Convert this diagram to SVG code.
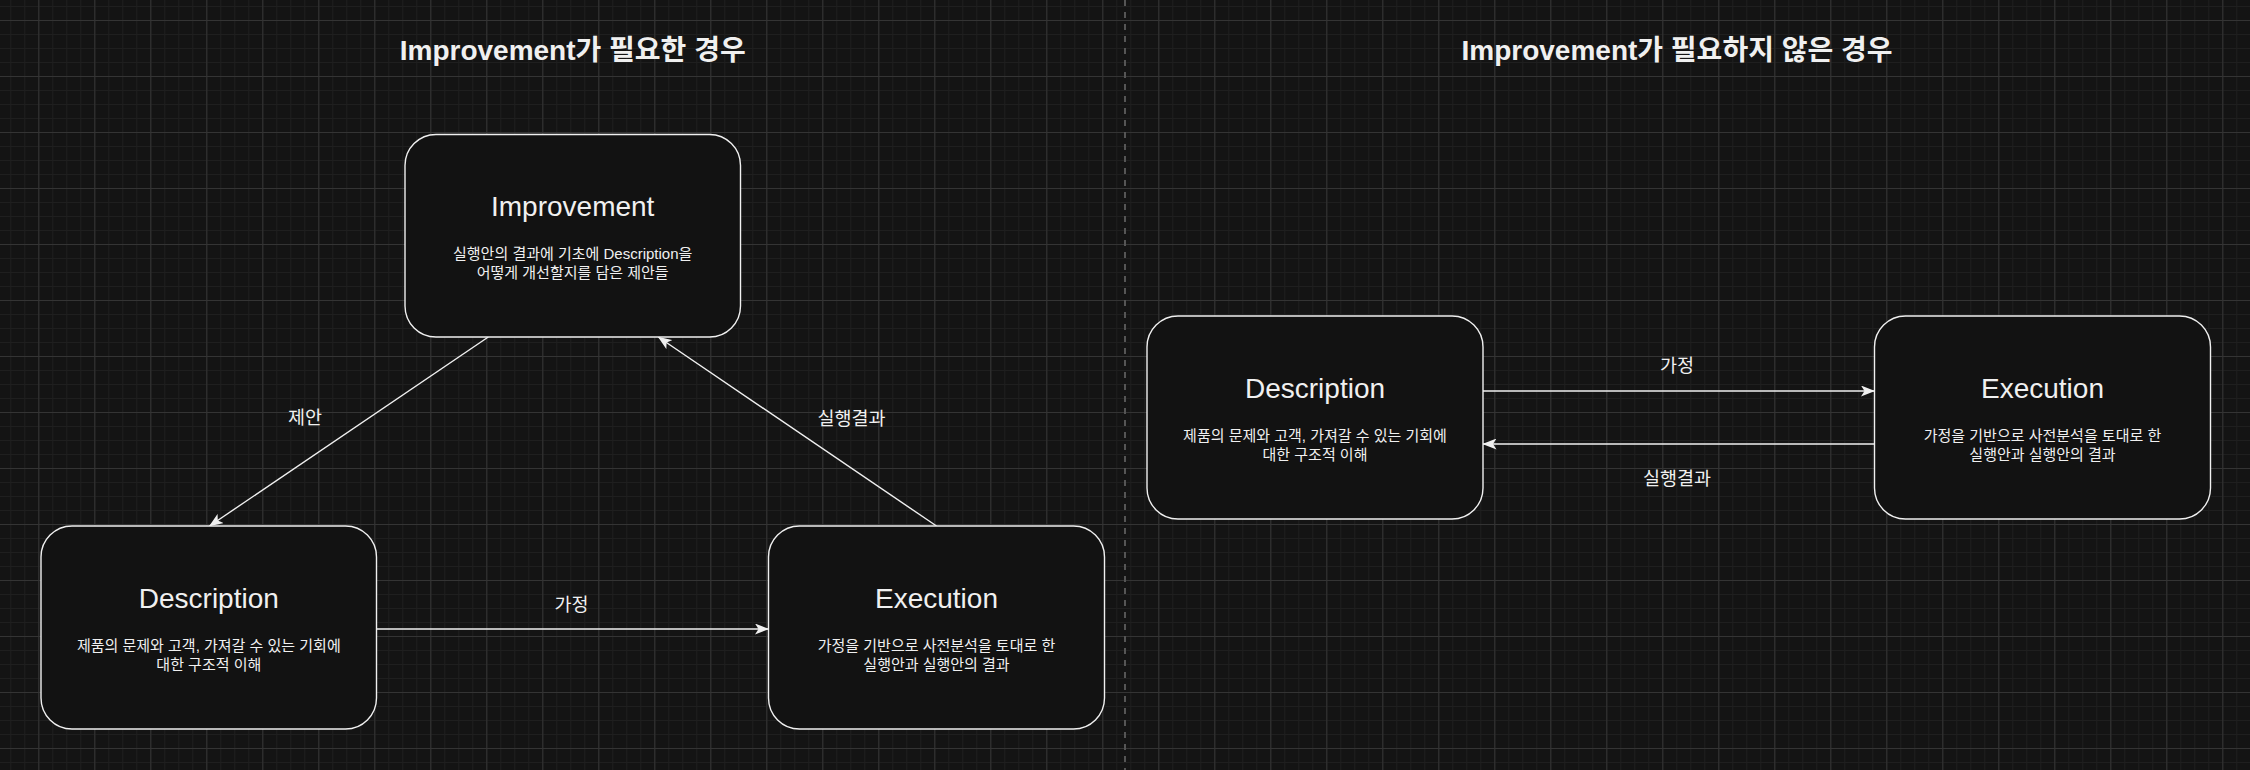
<svg xmlns="http://www.w3.org/2000/svg" width="2250" height="770" viewBox="0 0 2250 770">
  <defs>
    <pattern id="gridMinor" x="10.3" y="6" width="14" height="14" patternUnits="userSpaceOnUse">
      <rect x="0" y="0" width="1" height="14" fill="#1f1f1f"/>
      <rect x="0" y="0" width="14" height="1" fill="#1f1f1f"/>
    </pattern>
    <pattern id="gridMajor" x="38.3" y="20" width="56" height="56" patternUnits="userSpaceOnUse">
      <rect x="0" y="0" width="1" height="56" fill="#343434"/>
      <rect x="0" y="0" width="56" height="1" fill="#343434"/>
    </pattern>
    <marker id="arrow" viewBox="0 0 14 11" refX="13.5" refY="5.5" markerWidth="14" markerHeight="11" markerUnits="userSpaceOnUse" orient="auto">
      <path d="M0,0 L14,5.5 L0,11 L3.5,5.5 Z" fill="#f0f0f0"/>
    </marker>
  </defs>
  <style>
    .node rect { fill: #121212; stroke: #f0f0f0; stroke-width: 1.4; }
    .title { font-family: "Liberation Sans", "Noto Sans CJK KR", sans-serif; font-size: 28px; fill: #f0f0f0; text-anchor: middle; }
    .sub { font-family: "Liberation Sans", "Noto Sans CJK KR", sans-serif; font-size: 15px; fill: #f0f0f0; text-anchor: middle; }
    .heading { font-family: "Liberation Sans", "Noto Sans CJK KR", sans-serif; font-size: 28px; font-weight: bold; fill: #f0f0f0; text-anchor: middle; }
    .elabel { font-family: "Liberation Sans", "Noto Sans CJK KR", sans-serif; font-size: 18.5px; fill: #f0f0f0; text-anchor: middle; }
    .edge { stroke: #f0f0f0; stroke-width: 1.4; fill: none; marker-end: url(#arrow); }
  </style>

  <rect x="0" y="0" width="2250" height="770" fill="#141414"/>
  <rect x="0" y="0" width="2250" height="770" fill="url(#gridMinor)"/>
  <rect x="0" y="0" width="2250" height="770" fill="url(#gridMajor)"/>

  <line id="divider" x1="1125" y1="0" x2="1125" y2="770" stroke="#555555" stroke-width="2" stroke-dasharray="6 6"/>

  <g id="heading-left">
    <text class="heading" x="572.7" y="60">Improvement가 필요한 경우</text>
  </g>
  <g id="heading-right">
    <text class="heading" x="1677" y="60">Improvement가 필요하지 않은 경우</text>
  </g>

  <g id="connectors">
    <line class="edge" x1="488.3" y1="337" x2="209.5" y2="526"/>
    <line class="edge" x1="936.5" y1="526" x2="658.3" y2="337"/>
    <line class="edge" x1="376.5" y1="629" x2="768.5" y2="629"/>
    <line class="edge" x1="1483" y1="391" x2="1874.5" y2="391"/>
    <line class="edge" x1="1874.5" y1="444" x2="1483" y2="444"/>
    <text class="elabel" x="305" y="423.5">제안</text>
    <text class="elabel" x="851.5" y="425">실행결과</text>
    <text class="elabel" x="571.5" y="610.5">가정</text>
    <text class="elabel" x="1677" y="372">가정</text>
    <text class="elabel" x="1677" y="485">실행결과</text>
  </g>

  <g id="improvement" class="node">
    <rect x="405" y="134.5" width="335.5" height="202.5" rx="31" ry="31"/>
    <text class="title" x="572.7" y="216">Improvement</text>
    <text class="sub" x="572.7" y="259">실행안의 결과에 기초에 Description을</text>
    <text class="sub" x="572.7" y="277.7">어떻게 개선할지를 담은 제안들</text>
  </g>

  <g id="description" class="node">
    <rect x="41" y="526" width="335.5" height="203" rx="31" ry="31"/>
    <text class="title" x="208.8" y="608">Description</text>
    <text class="sub" x="208.8" y="651">제품의 문제와 고객, 가져갈 수 있는 기회에</text>
    <text class="sub" x="208.8" y="669.7">대한 구조적 이해</text>
  </g>

  <g id="execution" class="node">
    <rect x="768.5" y="526" width="336" height="203" rx="31" ry="31"/>
    <text class="title" x="936.5" y="608">Execution</text>
    <text class="sub" x="936.5" y="651">가정을 기반으로 사전분석을 토대로 한</text>
    <text class="sub" x="936.5" y="669.7">실행안과 실행안의 결과</text>
  </g>

  <g id="description-2" class="node">
    <rect x="1147" y="316" width="336" height="203" rx="31" ry="31"/>
    <text class="title" x="1315" y="398">Description</text>
    <text class="sub" x="1315" y="441">제품의 문제와 고객, 가져갈 수 있는 기회에</text>
    <text class="sub" x="1315" y="459.7">대한 구조적 이해</text>
  </g>

  <g id="execution-2" class="node">
    <rect x="1874.5" y="316" width="336" height="203" rx="31" ry="31"/>
    <text class="title" x="2042.5" y="398">Execution</text>
    <text class="sub" x="2042.5" y="441">가정을 기반으로 사전분석을 토대로 한</text>
    <text class="sub" x="2042.5" y="459.7">실행안과 실행안의 결과</text>
  </g>
</svg>
